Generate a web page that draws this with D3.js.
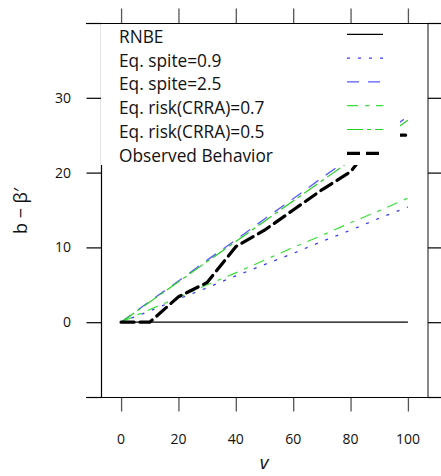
<!DOCTYPE html>
<html><head><meta charset="utf-8">
<script src="https://cdn.jsdelivr.net/npm/d3@7"></script>
<style>body{margin:0;background:#fff}svg{display:block}text{font-family:"Open Sans",Lato,sans-serif;fill:#111}</style>
</head><body><svg id="c" width="441" height="476"></svg>
<script>
const vValues = [0,10,20,30,40,50,60,70,80,90,100];
const rnbe     = [0,0,0,0,0,0,0,0,0,0,0];
const spite09  = [0,1.5,3.1,4.6,6.2,7.7,9.2,10.8,12.3,13.9,15.4];
const spite25  = [0,2.8,5.5,8.3,11.0,13.8,16.5,19.3,22.0,24.8,27.5];
const risk07   = [0,1.7,3.3,5.0,6.6,8.3,10.0,11.6,13.3,14.9,16.6];
const risk05   = [0,2.7,5.4,8.1,10.8,13.5,16.2,18.9,21.6,24.3,27.0];
const observed = [0,0,3.4,5.3,10.1,12.3,15.0,17.7,20.1,25.0,25.0];
const seriesNames = ["RNBE","Eq. spite=0.9","Eq. spite=2.5","Eq. risk(CRRA)=0.7","Eq. risk(CRRA)=0.5","Observed Behavior"];
const xTicks = [0,20,40,60,80,100];
const yTicks = [-10,0,10,20,30,40];
const yTickLabels = [0,10,20,30];

const styles = [
  {c:"#000", w:1.3, d:null},
  {c:"#3a3aff", w:1.3, d:"3,8"},
  {c:"#5a5aff", w:1.3, d:"12,9"},
  {c:"#33e033", w:1.2, d:"11,7,4,7"},
  {c:"#22d022", w:1.2, d:"16,4,4,4"},
  {c:"#000", w:3.2, d:"13,6"}
];
const data = [rnbe, spite09, spite25, risk07, risk05, observed];

const svg = d3.select("#c");
const x = d3.scaleLinear().domain([-7,107]).range([101,428]);
const y = d3.scaleLinear().domain([-10,40]).range([397,23]);

const line = d3.line().x(d=>x(d[0])).y(d=>y(d[1]));
data.forEach((arr,i)=>{
  const pts = vValues.map((v,j)=>[v,arr[j]]);
  svg.append("path").attr("d",line(pts)).attr("fill","none")
    .attr("stroke",styles[i].c).attr("stroke-width",styles[i].w)
    .attr("stroke-dasharray",styles[i].d).attr("stroke-linecap", i===5?"round":"butt");
});

svg.append("line").attr("x1",101.5).attr("x2",101.5).attr("y1",y(40)).attr("y2",y(-10)).attr("stroke","#000").attr("stroke-width",1.2);
svg.append("line").attr("x1",428).attr("x2",428).attr("y1",y(40)).attr("y2",y(-10)+0.5).attr("stroke","#888").attr("stroke-width",2);
const leftAxis = d3.axisLeft(y).tickValues(yTicks).tickSize(15).tickFormat("");
const gl = svg.append("g").attr("transform","translate(101.5,0)").call(leftAxis);
gl.select(".domain").remove();
gl.selectAll("line").attr("stroke","#000").attr("stroke-width",1.2);
const rightAxis = d3.axisRight(y).tickValues(yTicks).tickSize(15).tickFormat("");
const gr = svg.append("g").attr("transform","translate(428,0)").call(rightAxis);
gr.select(".domain").remove();
gr.selectAll("line").attr("stroke","#000").attr("stroke-width",1.2);
const bAxis = d3.axisBottom(x).tickValues(xTicks).tickSize(14).tickFormat("");
const gb = svg.append("g").attr("transform","translate(0,397.5)").call(bAxis);
gb.select(".domain").remove();
gb.selectAll("line").attr("stroke","#555").attr("stroke-width",1.3);
const tAxis = d3.axisTop(x).tickValues(xTicks).tickSize(15).tickFormat("");
const gt = svg.append("g").attr("transform","translate(0,23.5)").call(tAxis);
gt.select(".domain").remove();
gt.selectAll("line").attr("stroke","#555").attr("stroke-width",1.3);
svg.append("line").attr("x1",86).attr("x2",441).attr("y1",397.5).attr("y2",397.5).attr("stroke","#000").attr("stroke-width",1.2);
svg.append("line").attr("x1",86).attr("x2",441).attr("y1",23.5).attr("y2",23.5).attr("stroke","#000").attr("stroke-width",1.2);

svg.append("g").selectAll("text").data(yTickLabels).join("text")
  .attr("x",71).attr("y",d=>y(d)+5).attr("text-anchor","end").attr("font-size",14).text(d=>d);
svg.append("g").selectAll("text").data(xTicks).join("text")
  .attr("x",d=>x(d)).attr("y",443.5).attr("text-anchor","middle").attr("font-size",14).text(d=>d);

svg.append("text").attr("transform","translate(27,211) rotate(-90)").attr("text-anchor","middle")
  .attr("font-size",18).text("b \u2212 \u03b2\u2032");
svg.append("text").attr("x",264).attr("y",469).attr("text-anchor","middle").attr("font-size",19)
  .attr("font-style","italic").attr("font-family","'DejaVu Serif',serif").text("v");

svg.append("rect").attr("x",101).attr("y",24).attr("width",299).attr("height",141).attr("fill","#fff");
const lg = svg.append("g");
seriesNames.forEach((n,i)=>{
  const ly = 34.3 + i*23.8;
  lg.append("text").attr("x",119).attr("y",ly+8.5).attr("font-size",17.3).text(n);
  lg.append("line").attr("x1",347).attr("x2",383).attr("y1",ly).attr("y2",ly)
    .attr("stroke",styles[i].c).attr("stroke-width",styles[i].w).attr("stroke-dasharray",styles[i].d);
});
</script></body></html>
